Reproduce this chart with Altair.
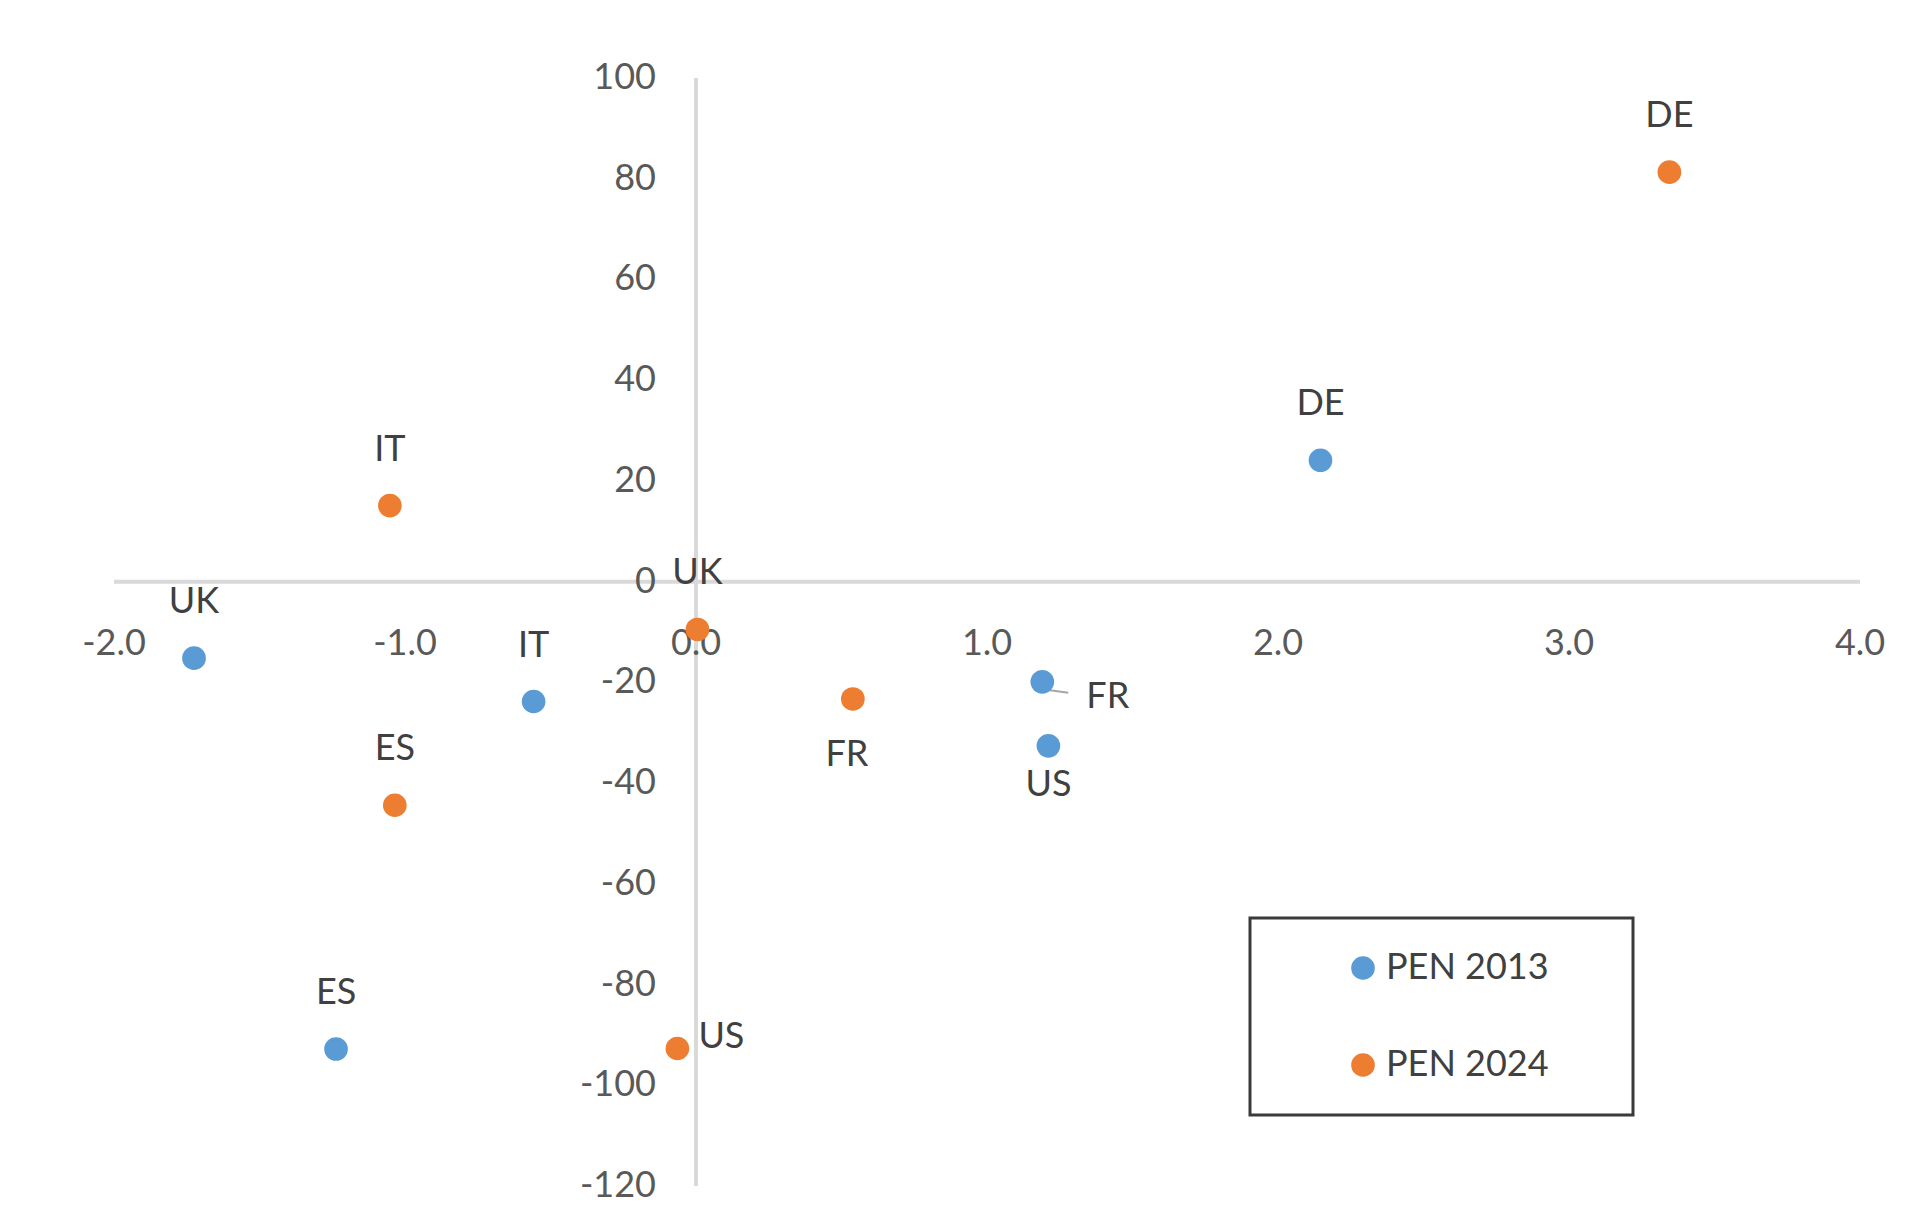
import altair as alt
import pandas as pd

# ---- data ----
COUNTRIES = ["UK", "IT", "ES", "FR", "US", "DE"]
SERIES = ["PEN 2013", "PEN 2024"]
PEN2013_X = [-1.725, -0.558, -1.237, 1.19, 1.211, 2.146]
PEN2013_Y = [-15.2, -23.8, -92.8, -19.9, -32.6, 24.1]
PEN2024_X = [0.005, -1.052, -1.035, 0.539, -0.064, 3.345]
PEN2024_Y = [-9.5, 15.1, -44.4, -23.3, -92.7, 81.3]

X_DOMAIN = [-2, 4]
Y_DOMAIN = [-120, 100]
X_TICKS = [-2, -1, 0, 1, 2, 3, 4]
X_TICK_LABELS = ["-2.0", "-1.0", "0.0", "1.0", "2.0", "3.0", "4.0"]
Y_TICKS = [-120, -100, -80, -60, -40, -20, 0, 20, 40, 60, 80, 100]
Y_TICK_LABELS = ["-120", "-100", "-80", "-60", "-40", "-20", "0", "20", "40", "60", "80", "100"]

# ---- label placement (style) ----
PLACE = {
    ("PEN 2013", "FR"): "right",
    ("PEN 2013", "US"): "below",
    ("PEN 2024", "FR"): "below_far",
    ("PEN 2024", "US"): "right_up",
}
PLACE_STYLE = {
    "above": dict(dx=0, dy=-56, align="center"),
    "below": dict(dx=0, dy=39, align="center"),
    "below_far": dict(dx=-6, dy=56, align="center"),
    "right": dict(dx=44, dy=15, align="left"),
    "right_up": dict(dx=21, dy=-12, align="left"),
}

rows = []
for s, xs, ys in [(SERIES[0], PEN2013_X, PEN2013_Y), (SERIES[1], PEN2024_X, PEN2024_Y)]:
    for c, xv, yv in zip(COUNTRIES, xs, ys):
        rows.append({"series": s, "country": c, "x": xv, "y": yv,
                     "place": PLACE.get((s, c), "above")})
df = pd.DataFrame(rows)

FONT = "Lato"
FS = 36
x_scale = alt.Scale(domain=X_DOMAIN, nice=False, zero=False)
y_scale = alt.Scale(domain=Y_DOMAIN, nice=False, zero=False)
color_scale = alt.Scale(domain=SERIES, range=["#5B9BD5", "#ED7D31"])
X = alt.X("x:Q", scale=x_scale, axis=None)
Y = alt.Y("y:Q", scale=y_scale, axis=None)

# axis lines crossing at zero
hline = alt.Chart(pd.DataFrame({"x": [X_DOMAIN[0]], "x2": [X_DOMAIN[1]], "y": [0]})).mark_rule(
    color="#d9d9d9", strokeWidth=4).encode(x=X, x2="x2:Q", y=Y)
vline = alt.Chart(pd.DataFrame({"y": [Y_DOMAIN[0]], "y2": [Y_DOMAIN[1]], "x": [0]})).mark_rule(
    color="#d9d9d9", strokeWidth=4).encode(x=X, y=Y, y2="y2:Q")

xt = alt.Chart(pd.DataFrame({"x": X_TICKS, "y": [0] * len(X_TICKS), "t": X_TICK_LABELS})).mark_text(
    font=FONT, fontSize=FS, color="#595959", dy=62, align="center", baseline="middle"
).encode(x=X, y=Y, text="t:N")
yt = alt.Chart(pd.DataFrame({"y": Y_TICKS, "x": [0] * len(Y_TICKS), "t": Y_TICK_LABELS})).mark_text(
    font=FONT, fontSize=FS, color="#595959", dx=-40, align="right", baseline="middle"
).encode(x=X, y=Y, text="t:N")

base = alt.Chart(df)

leader = base.transform_filter(
    (alt.datum.series == "PEN 2013") & (alt.datum.country == "FR")
).mark_rule(color="#a6a6a6", strokeWidth=2, xOffset=4, x2Offset=26, yOffset=8, y2Offset=11).encode(
    x=X, x2="x:Q", y=Y, y2="y:Q")

pad_chars = "\u2800" * 2
points = base.mark_circle(size=560, opacity=1).encode(
    x=X, y=Y,
    color=alt.Color("series:N", scale=color_scale, legend=alt.Legend(
        title=None, orient="none", legendX=1136, legendY=840,
        symbolType="circle", symbolSize=560, symbolOffset=63,
        labelFont=FONT, labelFontSize=FS, labelColor="#404040", labelOffset=5,
        labelLimit=600,
        labelExpr="datum.label + '" + pad_chars + "'",
        padding=32, rowPadding=61, strokeColor="#3a3a3a", fillColor="white",
    )),
)

label_layers = []
for p, st in PLACE_STYLE.items():
    label_layers.append(
        base.transform_filter(alt.datum.place == p).mark_text(
            font=FONT, fontSize=FS, color="#404040", baseline="middle", **st
        ).encode(x=X, y=Y, text="country:N")
    )

chart = alt.layer(hline, vline, xt, yt, leader, points, *label_layers).properties(
    width=1746, height=1108,
    padding={"left": 106, "top": 70, "right": 52, "bottom": 24},
    autosize=alt.AutoSizeParams(type="none"),
    background="white",
).configure_view(stroke=None).configure_legend(strokeWidth=3)

chart.save("out.html", embed_options={"renderer": "svg", "actions": False})
